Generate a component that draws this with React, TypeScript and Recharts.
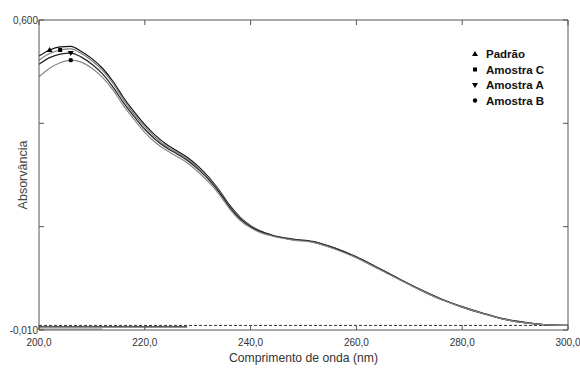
import { Line, LineChart, XAxis, YAxis } from "recharts";

const wavelengths = [
  200, 202, 204, 206, 208, 210, 212, 214, 216, 218, 220, 222, 224, 226, 228,
  230, 232, 234, 236, 238, 240, 242, 244, 248, 252, 256, 260, 264, 268, 272,
  276, 280, 284, 288, 292, 296, 300,
];

const padrao = [
  0.529, 0.541, 0.547, 0.548, 0.538, 0.524, 0.505, 0.479, 0.447, 0.419, 0.394,
  0.373, 0.356, 0.343, 0.33, 0.313, 0.292, 0.266, 0.236, 0.212, 0.195, 0.184,
  0.177, 0.169, 0.164, 0.151, 0.134, 0.113, 0.091, 0.07, 0.051, 0.036, 0.023,
  0.012, 0.005, 0.0, -0.001,
];
const amostraC = [
  0.521, 0.534, 0.541, 0.543, 0.534, 0.52, 0.501, 0.475, 0.443, 0.415, 0.39,
  0.369, 0.352, 0.34, 0.327, 0.31, 0.29, 0.264, 0.234, 0.211, 0.194, 0.183,
  0.176, 0.168, 0.163, 0.15, 0.133, 0.112, 0.09, 0.069, 0.05, 0.035, 0.022,
  0.011, 0.004, 0.0, -0.001,
];
const amostraA = [
  0.513, 0.526, 0.533, 0.535, 0.527, 0.513, 0.494, 0.468, 0.437, 0.41, 0.385,
  0.365, 0.349, 0.337, 0.324, 0.307, 0.287, 0.262, 0.232, 0.209, 0.193, 0.183,
  0.176, 0.168, 0.163, 0.15, 0.133, 0.112, 0.091, 0.07, 0.051, 0.035, 0.022,
  0.011, 0.004, 0.0, -0.001,
];
const amostraB = [
  0.488, 0.505, 0.516, 0.521, 0.517, 0.505, 0.487, 0.462, 0.431, 0.404, 0.379,
  0.359, 0.344, 0.332, 0.319, 0.302, 0.282, 0.258, 0.229, 0.206, 0.191, 0.181,
  0.175, 0.167, 0.162, 0.149, 0.132, 0.111, 0.09, 0.069, 0.05, 0.035, 0.022,
  0.011, 0.004, 0.0, -0.001,
];

// baseline traces sitting on the bottom of the frame
const baseDashedX = [200, 300];
const baseDashedY = [-0.001, -0.001];
const baseDarkX = [200, 228];
const baseDarkY = [-0.004, -0.004];
const baseGrayX = [200, 212];
const baseGrayY = [-0.008, -0.008];

const xTicks = [200, 220, 240, 260, 280, 300];
const yTicks = [-0.01, 0.19333, 0.39667, 0.6];
const yLabelled = [-0.01, 0.6];

type Marker = "up" | "square" | "down" | "circle";

const seriesNames = ["Padrão", "Amostra C", "Amostra A", "Amostra B"];
const seriesValues = [padrao, amostraC, amostraA, amostraB];
const seriesColors = ["#111", "#7c7c7c", "#222", "#868686"];
const seriesMarkers: Marker[] = ["up", "square", "down", "circle"];
const markerAt = [202, 204, 206, 206];

const FONT = "'Liberation Sans', Arial, sans-serif";
const AXIS = "#555";

const toPoints = (xs: number[], ys: number[]) =>
  xs.map((x, i) => ({ x, y: ys[i] }));

const fmt = (v: number, d: number) => v.toFixed(d).replace(".", ",");

function MarkerShape({ kind, cx, cy }: { kind: Marker; cx: number; cy: number }) {
  if (kind === "up")
    return <path d={`M${cx},${cy - 3} L${cx + 3},${cy + 2} L${cx - 3},${cy + 2} Z`} fill="#000" />;
  if (kind === "down")
    return <path d={`M${cx},${cy + 3} L${cx + 3},${cy - 2} L${cx - 3},${cy - 2} Z`} fill="#000" />;
  if (kind === "square")
    return <rect x={cx - 2} y={cy - 2} width={4} height={4} fill="#000" />;
  return <circle cx={cx} cy={cy} r={2.2} fill="#000" />;
}

function BottomTick(props: any) {
  const { x, y, payload } = props;
  return (
    <g>
      <line x1={x} y1={y} x2={x} y2={y - 5} stroke={AXIS} />
      <text x={x} y={y + 16} textAnchor="middle" fontSize={10} fill="#333" fontFamily={FONT}>
        {fmt(payload.value, 1)}
      </text>
    </g>
  );
}

function TopTick(props: any) {
  const { x, y } = props;
  return <line x1={x} y1={y} x2={x} y2={y + 5} stroke={AXIS} />;
}

function LeftTick(props: any) {
  const { x, y, payload } = props;
  const show = yLabelled.some((v) => Math.abs(v - payload.value) < 1e-6);
  return (
    <g>
      <line x1={x} y1={y} x2={x + 5} y2={y} stroke={AXIS} />
      {show && (
        <text x={x - 1} y={y + 3.5} textAnchor="end" fontSize={10} fill="#333" fontFamily={FONT}>
          {fmt(payload.value, 3)}
        </text>
      )}
    </g>
  );
}

function RightTick(props: any) {
  const { x, y } = props;
  return <line x1={x} y1={y} x2={x - 5} y2={y} stroke={AXIS} />;
}

function LegendBox() {
  return (
    <svg width={90} height={64} style={{ position: "absolute", left: 469, top: 46 }}>
      {seriesNames.map((name, i) => (
        <g key={name}>
          <MarkerShape kind={seriesMarkers[i]} cx={6} cy={8 + i * 15.5} />
          <text x={17} y={12 + i * 15.5} fontSize={11.5} fontWeight="bold" fill="#111" fontFamily={FONT}>
            {name}
          </text>
        </g>
      ))}
    </svg>
  );
}

export default function App() {
  return (
    <div style={{ position: "absolute", left: 0, top: 0, width: 580, height: 369, background: "#fff" }}>
      <LineChart width={580} height={369} margin={{ top: 0, right: 0, bottom: 0, left: 0 }}>
        <XAxis
          dataKey="x"
          type="number"
          domain={[200, 300]}
          ticks={xTicks}
          allowDataOverflow
          height={39}
          tickSize={0}
          tickMargin={0}
          tickLine={false}
          axisLine={{ stroke: AXIS }}
          tick={<BottomTick />}
          label={{
            value: "Comprimento de onda (nm)",
            position: "insideBottom",
            offset: 7,
            fontSize: 12.2,
            fill: "#333",
            fontFamily: FONT,
          }}
        />
        <XAxis
          xAxisId="top"
          orientation="top"
          dataKey="x"
          type="number"
          domain={[200, 300]}
          ticks={xTicks}
          allowDataOverflow
          height={20}
          tickSize={0}
          tickMargin={0}
          tickLine={false}
          axisLine={{ stroke: AXIS }}
          tick={<TopTick />}
        />
        <YAxis
          type="number"
          domain={[-0.01, 0.6]}
          ticks={yTicks}
          allowDataOverflow
          width={39}
          tickSize={0}
          tickMargin={0}
          tickLine={false}
          axisLine={{ stroke: AXIS }}
          tick={<LeftTick />}
          label={{
            value: "Absorvância",
            angle: -90,
            position: "center",
            dx: 3,
            fontSize: 12.5,
            fill: "#444",
            fontFamily: FONT,
          }}
        />
        <YAxis
          yAxisId="right"
          orientation="right"
          type="number"
          domain={[-0.01, 0.6]}
          ticks={yTicks}
          allowDataOverflow
          width={12}
          tickSize={0}
          tickMargin={0}
          tickLine={false}
          axisLine={{ stroke: AXIS }}
          tick={<RightTick />}
        />
        <Line
          xAxisId="top"
          yAxisId="right"
          data={toPoints(baseDashedX, baseDashedY)}
          dataKey="y"
          stroke="#333"
          strokeDasharray="3 2"
          strokeWidth={1}
          dot={false}
          isAnimationActive={false}
        />
        <Line
          data={toPoints(baseGrayX, baseGrayY)}
          dataKey="y"
          stroke="#888"
          strokeWidth={1.2}
          dot={false}
          isAnimationActive={false}
        />
        <Line
          data={toPoints(baseDarkX, baseDarkY)}
          dataKey="y"
          stroke="#222"
          strokeWidth={1.2}
          dot={false}
          isAnimationActive={false}
        />
        {seriesNames.map((name, i) => (
          <Line
            key={name}
            name={name}
            data={toPoints(wavelengths, seriesValues[i])}
            dataKey="y"
            type="monotone"
            stroke={seriesColors[i]}
            strokeWidth={1.2}
            dot={(p: any) =>
              p.payload.x === markerAt[i] ? (
                <MarkerShape key={`m${i}`} kind={seriesMarkers[i]} cx={p.cx} cy={p.cy} />
              ) : (
                <g key={`d${i}-${p.index}`} />
              )
            }
            isAnimationActive={false}
          />
        ))}
      </LineChart>
      <LegendBox />
    </div>
  );
}
